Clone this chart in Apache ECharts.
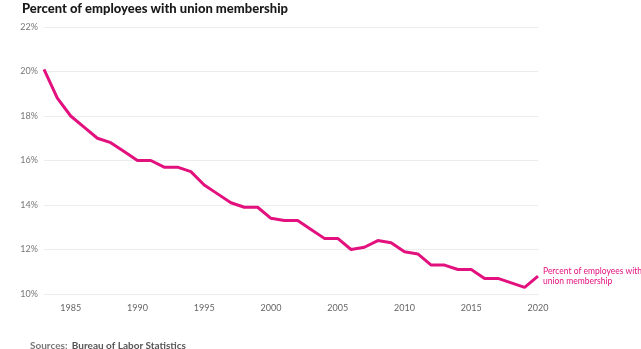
<!DOCTYPE html>
<html>
<head>
<meta charset="utf-8">
<script src="https://cdn.jsdelivr.net/npm/echarts@6/dist/echarts.min.js"></script>
<style>
  html, body { margin: 0; padding: 0; background: #fff; }
  #chart { width: 641px; height: 349px; }
</style>
</head>
<body>
<div id="chart"></div>
<script>
// Union membership rate, share of employed wage and salary workers
const years = [1983, 1984, 1985, 1986, 1987, 1988, 1989, 1990, 1991, 1992,
  1993, 1994, 1995, 1996, 1997, 1998, 1999, 2000, 2001, 2002,
  2003, 2004, 2005, 2006, 2007, 2008, 2009, 2010, 2011, 2012,
  2013, 2014, 2015, 2016, 2017, 2018, 2019, 2020];
const unionRate = [20.1, 18.8, 18.0, 17.5, 17.0, 16.8, 16.4, 16.0, 16.0, 15.7,
  15.7, 15.5, 14.9, 14.5, 14.1, 13.9, 13.9, 13.4, 13.3, 13.3,
  12.9, 12.5, 12.5, 12.0, 12.1, 12.4, 12.3, 11.9, 11.8, 11.3,
  11.3, 11.1, 11.1, 10.7, 10.7, 10.5, 10.3, 10.8];
const yTicks = [10, 12, 14, 16, 18, 20, 22];
const seriesName = 'Percent of employees with union membership';

const FONT = 'Lato, "Noto Sans", sans-serif';
const PINK = '#e2117e';

const chart = echarts.init(document.getElementById('chart'), null, { renderer: 'canvas' });
chart.setOption({
  animation: false,
  backgroundColor: '#ffffff',
  textStyle: { fontFamily: FONT },
  title: [
    {
      text: seriesName,
      left: 22, top: 2, padding: 0,
      textStyle: { fontFamily: FONT, fontSize: 13, fontWeight: 900, color: '#1a1a1a' }
    },
    {
      text: '{a|Sources:} {b|Bureau of Labor Statistics}',
      left: 30, top: 337, padding: 0,
      textStyle: {
        rich: {
          a: { fontFamily: FONT, fontSize: 10, color: '#777', lineHeight: 12 },
          b: { fontFamily: FONT, fontSize: 10, fontWeight: 'bold', color: '#555', lineHeight: 12 }
        }
      }
    }
  ],
  grid: { left: 44, right: 103, top: 27, bottom: 55, containLabel: false },
  xAxis: {
    type: 'category',
    data: years,
    boundaryGap: false,
    axisLine: { show: false },
    axisTick: { show: false },
    axisLabel: {
      interval: (idx, val) => Number(val) % 5 === 0,
      color: '#666', fontSize: 9, margin: 10, fontFamily: FONT
    },
    splitLine: { show: false }
  },
  yAxis: {
    type: 'value',
    min: yTicks[0], max: yTicks[yTicks.length - 1], interval: 2,
    axisLine: { show: false },
    axisTick: { show: false },
    axisLabel: { formatter: '{value}%', color: '#777', fontSize: 9, margin: 6, fontFamily: FONT },
    splitLine: { lineStyle: { color: '#ececec', width: 1 } }
  },
  series: [{
    name: seriesName,
    type: 'line',
    data: unionRate,
    showSymbol: false,
    lineStyle: { color: PINK, width: 3 },
    itemStyle: { color: PINK },
    endLabel: {
      show: true,
      formatter: 'Percent of employees with\nunion membership',
      color: PINK, fontSize: 8.5, lineHeight: 9.5, distance: 5, fontFamily: FONT
    }
  }]
});
</script>
</body>
</html>
